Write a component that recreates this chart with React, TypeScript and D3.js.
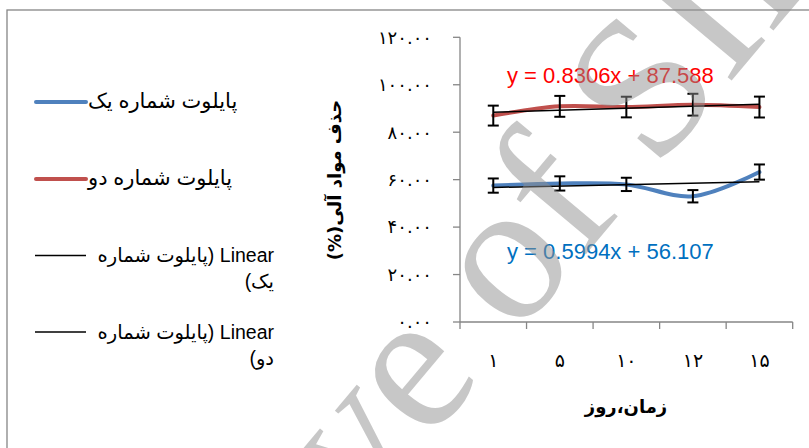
import React, { useEffect, useRef } from 'react';
import * as d3 from 'd3';

// days on the x axis (Persian digits, as in the source chart)
const days = ['۱', '۵', '۱۰', '۱۲', '۱۵'];

const pilotOne = [57.5, 58.4, 58.0, 53.0, 63.2];
const pilotOneErr = [3.0, 3.0, 2.8, 2.6, 3.2];
const pilotTwo = [87.0, 90.9, 90.6, 91.6, 90.6];
const pilotTwoErr = [4.2, 4.4, 4.35, 4.6, 4.4];

// linear trend lines: [slope, intercept]
const trendOne = [0.5994, 56.107];
const trendTwo = [0.8306, 87.588];

const yTicks = [0, 20, 40, 60, 80, 100, 120];
const yTickLabels = ['۰.۰۰', '۲۰.۰۰', '۴۰.۰۰', '۶۰.۰۰', '۸۰.۰۰', '۱۰۰.۰۰', '۱۲۰.۰۰'];

const legendNames = ['پایلوت شماره یک', 'پایلوت شماره دو'];
const trendNames = [
  ['Linear (پایلوت شماره', 'یک)'],
  ['Linear (پایلوت شماره', 'دو)'],
];

const App: React.FC = () => {
  const svgRef = useRef<SVGSVGElement>(null);

  useEffect(() => {
    if (!svgRef.current) return;
    const svg = d3.select(svgRef.current).html('');
    const sans = "'Liberation Sans', 'DejaVu Sans', sans-serif";
    const axisColor = '#868686';

    svg.append('rect').attr('width', 809).attr('height', 448).attr('fill', '#fff');
    // chart frame (runs off the right and bottom edges)
    svg.append('rect')
      .attr('x', 7).attr('y', 10).attr('width', 900).attr('height', 600)
      .attr('fill', 'none').attr('stroke', axisColor).attr('stroke-width', 1.3);

    const x = d3.scaleBand<number>().domain(d3.range(days.length)).range([460, 792.7]);
    const cx = (i: number) => (x(i) as number) + x.bandwidth() / 2;
    const y = d3.scaleLinear().domain([0, 120]).range([322, 37.3]);

    // y axis
    const yAxis = svg.append('g');
    yAxis.append('line')
      .attr('x1', 460).attr('x2', 460).attr('y1', y(0)).attr('y2', y(120))
      .attr('stroke', axisColor).attr('stroke-width', 1.3);
    yTicks.forEach((t, i) => {
      yAxis.append('line')
        .attr('x1', 453).attr('x2', 460).attr('y1', y(t)).attr('y2', y(t))
        .attr('stroke', axisColor).attr('stroke-width', 1.3);
      yAxis.append('text')
        .attr('x', 432).attr('y', y(t)).attr('dy', '0.35em')
        .attr('text-anchor', 'end')
        .attr('font-family', "'DejaVu Sans', sans-serif")
        .attr('font-size', 18).attr('letter-spacing', 3)
        .attr('fill', '#000')
        .text(yTickLabels[i]);
    });

    // x axis
    const xAxis = svg.append('g');
    xAxis.append('line')
      .attr('x1', 460).attr('x2', 792.7).attr('y1', y(0)).attr('y2', y(0))
      .attr('stroke', axisColor).attr('stroke-width', 1.3);
    d3.range(days.length + 1).forEach(i => {
      const xx = i < days.length ? (x(i) as number) : 792.7;
      xAxis.append('line')
        .attr('x1', xx).attr('x2', xx).attr('y1', y(0)).attr('y2', y(0) + 7)
        .attr('stroke', axisColor).attr('stroke-width', 1.3);
    });
    days.forEach((d, i) => {
      xAxis.append('text')
        .attr('x', cx(i)).attr('y', 360).attr('dy', '0.35em')
        .attr('text-anchor', 'middle')
        .attr('font-family', "'DejaVu Sans', sans-serif")
        .attr('font-size', 19).attr('letter-spacing', 1.5).attr('fill', '#000')
        .text(d);
    });

    // axis titles
    svg.append('text')
      .attr('x', 626).attr('y', 413)
      .attr('text-anchor', 'middle')
      .attr('font-family', "'DejaVu Sans', sans-serif")
      .attr('font-weight', 'bold').attr('font-size', 18)
      .text('زمان،روز');
    svg.append('text')
      .attr('transform', 'translate(341,180) rotate(-90)')
      .attr('direction', 'rtl')
      .attr('text-anchor', 'middle')
      .attr('font-family', "'DejaVu Sans', sans-serif")
      .attr('font-weight', 'bold').attr('font-size', 18)
      .text('حذف مواد آلی(%)');

    // series
    const line = d3.line<number>()
      .x((_, i) => cx(i))
      .y(d => y(d))
      .curve(d3.curveCatmullRom.alpha(0.5));

    const series = [
      { values: pilotOne, errs: pilotOneErr, trend: trendOne, color: '#4F81BD' },
      { values: pilotTwo, errs: pilotTwoErr, trend: trendTwo, color: '#C0504D' },
    ];

    series.forEach(s => {
      svg.append('path')
        .datum(s.values)
        .attr('fill', 'none')
        .attr('stroke', s.color)
        .attr('stroke-width', 4)
        .attr('stroke-linecap', 'round')
        .attr('d', line);

      // trend line
      const [m, b] = s.trend;
      svg.append('line')
        .attr('x1', cx(0)).attr('y1', y(m * 1 + b))
        .attr('x2', cx(s.values.length - 1)).attr('y2', y(m * s.values.length + b))
        .attr('stroke', '#000').attr('stroke-width', 1.5);

      // error bars
      s.values.forEach((v, i) => {
        const g = svg.append('g').attr('stroke', '#000').attr('stroke-width', 2);
        g.append('line')
          .attr('x1', cx(i)).attr('x2', cx(i))
          .attr('y1', y(v - s.errs[i])).attr('y2', y(v + s.errs[i]));
        [v - s.errs[i], v + s.errs[i]].forEach(e => {
          g.append('line')
            .attr('x1', cx(i) - 5.5).attr('x2', cx(i) + 5.5)
            .attr('y1', y(e)).attr('y2', y(e));
        });
      });
    });

    // trend equations
    svg.append('text')
      .attr('x', 507).attr('y', 83)
      .attr('font-family', sans).attr('font-size', 22).attr('fill', '#FF0000')
      .text(`y = ${trendTwo[0]}x + ${trendTwo[1]}`);
    svg.append('text')
      .attr('x', 507).attr('y', 259)
      .attr('font-family', sans).attr('font-size', 22).attr('fill', '#0070C0')
      .text(`y = ${trendOne[0]}x + ${trendOne[1]}`);

    // legend
    const legendY = [102, 179];
    legendNames.forEach((name, i) => {
      svg.append('line')
        .attr('x1', 36).attr('x2', 86).attr('y1', legendY[i]).attr('y2', legendY[i])
        .attr('stroke', series[i].color).attr('stroke-width', 4)
        .attr('stroke-linecap', 'round');
      svg.append('text')
        .attr('x', 88).attr('y', legendY[i] + 6)
        .attr('font-family', sans).attr('font-size', 21).attr('fill', '#000')
        .text(name);
    });
    const trendLegendY = [255.5, 332];
    trendNames.forEach((lines, i) => {
      svg.append('line')
        .attr('x1', 35).attr('x2', 86).attr('y1', trendLegendY[i]).attr('y2', trendLegendY[i])
        .attr('stroke', '#000').attr('stroke-width', 1.3);
      lines.forEach((t, j) => {
        svg.append('text')
          .attr('x', 274).attr('y', trendLegendY[i] + 6.5 + j * 26)
          .attr('direction', 'rtl').attr('text-anchor', 'start')
          .attr('font-family', sans).attr('font-size', 19.5).attr('fill', '#000')
          .text(t);
      });
    });

    // watermark
    svg.append('text')
      .attr('transform', 'translate(70,869) rotate(-50)')
      .attr('font-family', "'Liberation Serif', serif")
      .attr('font-size', 200)
      .attr('fill', '#909090').attr('fill-opacity', 0.5)
      .text('Archive of SID');
  }, []);

  return (
    <svg
      ref={svgRef}
      width={809}
      height={448}
      style={{ position: 'absolute', left: 0, top: 0 }}
    />
  );
};

export default App;
